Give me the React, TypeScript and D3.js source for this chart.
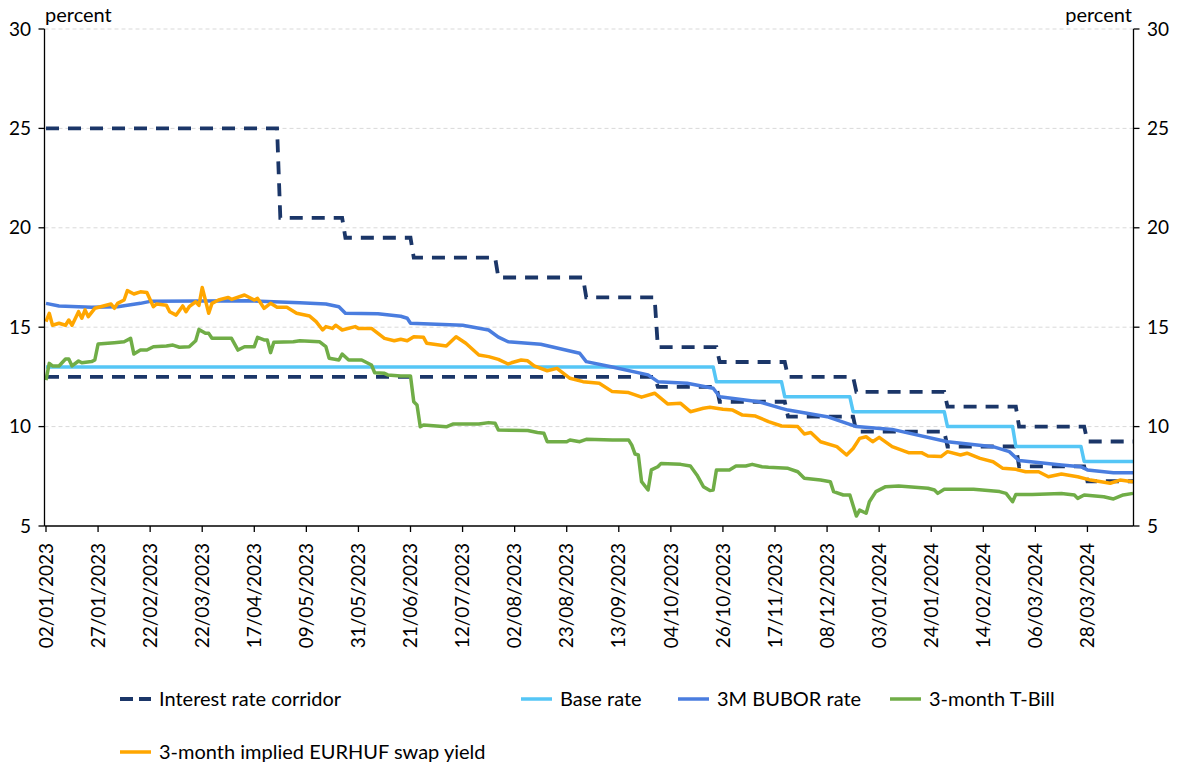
import React from "react";
import * as d3 from "d3";

// x values are trading-day indices (0 = 02/01/2023), one label every 16 days
const tickLabels = [
  "02/01/2023", "27/01/2023", "22/02/2023", "22/03/2023", "17/04/2023", "09/05/2023",
  "31/05/2023", "21/06/2023", "12/07/2023", "02/08/2023", "23/08/2023", "13/09/2023",
  "04/10/2023", "26/10/2023", "17/11/2023", "08/12/2023", "03/01/2024", "24/01/2024",
  "14/02/2024", "06/03/2024", "28/03/2024",
];
const lastDay = 334;
const yTicks = [5, 10, 15, 20, 25, 30];

// step series: [first day the rate applies, rate]
const corridorUpper: [number, number][] = [
  [0, 25], [72, 20.5], [92, 19.5], [113, 18.5], [139, 17.5], [166, 16.5], [188, 14],
  [207, 13.25], [228, 12.5], [249, 11.75], [277, 11], [299, 10], [320, 9.25],
];
const corridorLower: [number, number][] = [
  [0, 12.5], [188, 12], [207, 11.25], [228, 10.5], [249, 9.75], [277, 9], [299, 8], [320, 7.25],
];
const baseRate: [number, number][] = [
  [0, 13], [206, 12.25], [227, 11.5], [248, 10.75], [277, 10], [298, 9], [319, 8.25],
];

// market series: [day, percent]
const bubor: [number, number][] = [
  [0, 16.2], [4, 16.07], [14, 16.0], [22, 16.03], [29, 16.2], [32, 16.3], [63, 16.33],
  [78, 16.23], [86, 16.17], [90, 16.03], [92, 15.7], [102, 15.68], [109, 15.55], [111, 15.45],
  [112, 15.2], [128, 15.1], [136, 14.86], [139, 14.5], [142, 14.27], [152, 14.14], [164, 13.69],
  [166, 13.27], [174, 13.0], [185, 12.6], [188, 12.26], [197, 12.18], [205, 11.93], [207, 11.5],
  [219, 11.25], [226, 10.92], [228, 10.83], [240, 10.5], [249, 10.0], [260, 9.86], [277, 9.24],
  [291, 8.99], [296, 8.74], [299, 8.29], [312, 8.07], [318, 7.98], [320, 7.82], [328, 7.68],
  [334, 7.68],
];
const tBill: [number, number][] = [
  [0, 12.34], [1, 13.18], [2, 13.05], [4, 13.05], [6, 13.4], [7, 13.4], [8, 13.05], [10, 13.3],
  [11, 13.21], [14, 13.27], [15, 13.35], [16, 14.15], [21, 14.22], [24, 14.27], [26, 14.44],
  [27, 13.65], [29, 13.85], [31, 13.85], [33, 14.02], [37, 14.05], [39, 14.1], [41, 13.99],
  [44, 14.02], [46, 14.32], [47, 14.89], [49, 14.69], [50, 14.69], [51, 14.44], [57, 14.44],
  [59, 13.85], [61, 14.02], [64, 14.02], [65, 14.49], [67, 14.36], [68, 14.36], [69, 13.72],
  [70, 14.24], [76, 14.27], [78, 14.32], [84, 14.27], [86, 14.02], [87, 13.44], [90, 13.35],
  [91, 13.65], [93, 13.35], [97, 13.35], [100, 13.1], [101, 12.71], [104, 12.68], [105, 12.6],
  [109, 12.55], [112, 12.55], [113, 11.25], [114, 11.09], [115, 9.99], [116, 10.08], [123, 9.99],
  [125, 10.13], [133, 10.13], [136, 10.2], [138, 10.17], [139, 9.83], [148, 9.8], [151, 9.7],
  [153, 9.66], [154, 9.24], [160, 9.24], [161, 9.33], [164, 9.24], [166, 9.36], [174, 9.33],
  [179, 9.33], [180, 9.07], [181, 8.62], [182, 8.57], [183, 7.23], [185, 6.81], [186, 7.82],
  [188, 7.98], [189, 8.15], [195, 8.1], [198, 8.02], [200, 7.57], [202, 6.98], [204, 6.78],
  [205, 6.81], [206, 7.82], [210, 7.82], [212, 8.02], [215, 8.02], [217, 8.1], [220, 7.98],
  [222, 7.95], [228, 7.9], [231, 7.73], [233, 7.4], [238, 7.31], [241, 7.23], [242, 6.73],
  [245, 6.56], [247, 6.56], [249, 5.5], [250, 5.8], [252, 5.64], [253, 6.22], [255, 6.73],
  [258, 6.98], [262, 7.01], [271, 6.9], [273, 6.81], [274, 6.64], [276, 6.85], [285, 6.85],
  [293, 6.73], [295, 6.64], [297, 6.22], [298, 6.59], [303, 6.59], [312, 6.64], [316, 6.56],
  [317, 6.39], [319, 6.56], [325, 6.47], [328, 6.36], [331, 6.56], [334, 6.64],
];
const swapYield: [number, number][] = [
  [0, 15.28], [1, 15.7], [2, 15.1], [4, 15.2], [6, 15.1], [7, 15.36], [8, 15.1], [10, 15.78],
  [11, 15.45], [12, 15.87], [13, 15.53], [15, 15.95], [20, 16.17], [21, 15.95], [22, 16.2],
  [24, 16.37], [25, 16.84], [27, 16.67], [29, 16.78], [31, 16.75], [33, 16.03], [34, 16.17],
  [37, 16.1], [38, 15.78], [40, 15.61], [42, 16.07], [43, 15.78], [44, 16.03], [46, 16.28],
  [47, 16.1], [48, 17.0], [50, 15.7], [51, 16.2], [53, 16.37], [56, 16.5], [57, 16.4],
  [61, 16.62], [64, 16.37], [65, 16.45], [67, 15.95], [69, 16.2], [71, 16.0], [74, 16.0],
  [77, 15.7], [81, 15.56], [83, 15.28], [85, 14.86], [86, 15.03], [88, 14.94], [89, 15.1],
  [91, 14.86], [95, 15.03], [96, 14.94], [100, 14.94], [104, 14.44], [107, 14.32], [109, 14.39],
  [111, 14.32], [113, 14.52], [116, 14.49], [117, 14.19], [123, 14.05], [126, 14.52],
  [129, 14.19], [133, 13.6], [136, 13.52], [139, 13.38], [142, 13.15], [143, 13.21],
  [146, 13.35], [148, 13.31], [150, 13.05], [154, 12.81], [157, 12.93], [161, 12.43],
  [165, 12.26], [170, 12.18], [174, 11.76], [179, 11.71], [183, 11.48], [187, 11.68],
  [191, 11.14], [195, 11.17], [198, 10.75], [202, 10.92], [204, 10.97], [208, 10.87],
  [211, 10.83], [214, 10.58], [218, 10.53], [222, 10.25], [226, 10.03], [231, 10.0], [233, 9.63],
  [235, 9.7], [238, 9.24], [243, 8.99], [246, 8.57], [248, 8.9], [250, 9.41], [252, 9.49],
  [254, 9.24], [256, 9.46], [260, 8.99], [265, 8.69], [269, 8.69], [271, 8.52], [275, 8.49],
  [277, 8.74], [281, 8.57], [283, 8.66], [287, 8.4], [291, 8.23], [294, 7.9], [298, 7.85],
  [301, 7.73], [305, 7.73], [308, 7.48], [312, 7.62], [317, 7.48], [321, 7.31], [327, 7.15],
  [330, 7.31], [334, 7.23],
];

const COLORS = {
  corridor: "#1b3668",
  base: "#55c6f6",
  bubor: "#4a7ddf",
  tbill: "#70ad47",
  swap: "#ffa600",
};

const FONT = "Lato, 'Open Sans', sans-serif";

// expand step breakpoints into one point per trading day
function daily(steps: [number, number][]): [number, number][] {
  const out: [number, number][] = [];
  for (let i = 0; i <= lastDay; i++) {
    let v = steps[0][1];
    for (const [d, r] of steps) if (d <= i) v = r;
    out.push([i, v]);
  }
  return out;
}

export default function App() {
  const width = 1178;
  const height = 767;
  const left = 46;
  const right = 1133;
  const axisLeft = 44.5;
  const axisRight = 1133.5;
  const top = 29;
  const bottom = 526;

  const x = d3.scaleLinear().domain([0, lastDay]).range([left, right]);
  const y = d3.scaleLinear().domain([5, 30]).range([bottom, top]);
  const line = d3
    .line<[number, number]>()
    .x((d) => x(d[0]))
    .y((d) => y(d[1]));

  const solid = [
    { data: daily(baseRate), color: COLORS.base },
    { data: bubor, color: COLORS.bubor },
    { data: tBill, color: COLORS.tbill },
    { data: swapYield, color: COLORS.swap },
  ];

  const legendRow1 = [
    { label: "Interest rate corridor", color: COLORS.corridor, dashed: true, x: 120 },
    { label: "Base rate", color: COLORS.base, dashed: false, x: 521 },
    { label: "3M BUBOR rate", color: COLORS.bubor, dashed: false, x: 678 },
    { label: "3-month T-Bill", color: COLORS.tbill, dashed: false, x: 890 },
  ];
  const legendRow2 = [
    { label: "3-month implied EURHUF swap yield", color: COLORS.swap, dashed: false, x: 120 },
  ];

  return (
    <div style={{ position: "absolute", left: 0, top: 0 }}>
      <svg width={width} height={height} style={{ display: "block", background: "#fff" }}>
        {/* grid */}
        {yTicks.filter((t) => t > 5).map((t) => (
          <line
            key={`g${t}`}
            x1={axisLeft}
            x2={axisRight}
            y1={y(t)}
            y2={y(t)}
            stroke="#d9d9d9"
            strokeWidth={1}
            strokeDasharray="4,3"
          />
        ))}

        {/* series */}
        <path d={line(daily(corridorUpper)) ?? ""} fill="none" stroke={COLORS.corridor}
          strokeWidth={3.8} strokeDasharray="13,9" />
        <path d={line(daily(corridorLower)) ?? ""} fill="none" stroke={COLORS.corridor}
          strokeWidth={3.8} strokeDasharray="13,9" />
        {solid.map((s, i) => (
          <path key={i} d={line(s.data) ?? ""} fill="none" stroke={s.color} strokeWidth={3.5}
            strokeLinejoin="round" />
        ))}

        {/* axes */}
        <g stroke="#000" strokeWidth={1.3}>
          <line x1={axisLeft} x2={axisLeft} y1={top} y2={bottom} />
          <line x1={axisRight} x2={axisRight} y1={top} y2={bottom} />
          <line x1={axisLeft} x2={axisRight} y1={bottom} y2={bottom} />
          {yTicks.map((t) => (
            <React.Fragment key={`t${t}`}>
              <line x1={axisLeft - 6} x2={axisLeft} y1={y(t)} y2={y(t)} />
              <line x1={axisRight} x2={axisRight + 6} y1={y(t)} y2={y(t)} />
            </React.Fragment>
          ))}
          {tickLabels.map((_, i) => (
            <line key={`xt${i}`} x1={x(i * 16)} x2={x(i * 16)} y1={bottom} y2={bottom + 6} />
          ))}
        </g>

        <g fontFamily={FONT} fontSize={19} fill="#000">
          {yTicks.map((t) => (
            <React.Fragment key={`yl${t}`}>
              <text x={31} y={y(t)} dy="0.35em" textAnchor="end">{t}</text>
              <text x={1147} y={y(t)} dy="0.35em">{t}</text>
            </React.Fragment>
          ))}
          <text x={45} y={22} fontSize={20}>percent</text>
          <text x={1132} y={22} fontSize={20} textAnchor="end">percent</text>
          {tickLabels.map((lab, i) => (
            <text
              key={lab}
              transform={`translate(${x(i * 16)},543) rotate(-90)`}
              textAnchor="end"
              dy="0.35em"
            >
              {lab}
            </text>
          ))}

          {/* legend */}
          {[...legendRow1.map((l) => ({ ...l, y: 699 })), ...legendRow2.map((l) => ({ ...l, y: 752 }))].map(
            (l) => (
              <g key={l.label}>
                <line x1={l.x} x2={l.x + 31} y1={l.y} y2={l.y} stroke={l.color}
                  strokeWidth={l.dashed ? 4 : 3.5} strokeDasharray={l.dashed ? "13,6" : undefined} />
                <text x={l.x + 39} y={l.y} dy="0.35em" fontSize={20}>{l.label}</text>
              </g>
            )
          )}
        </g>
      </svg>
    </div>
  );
}
